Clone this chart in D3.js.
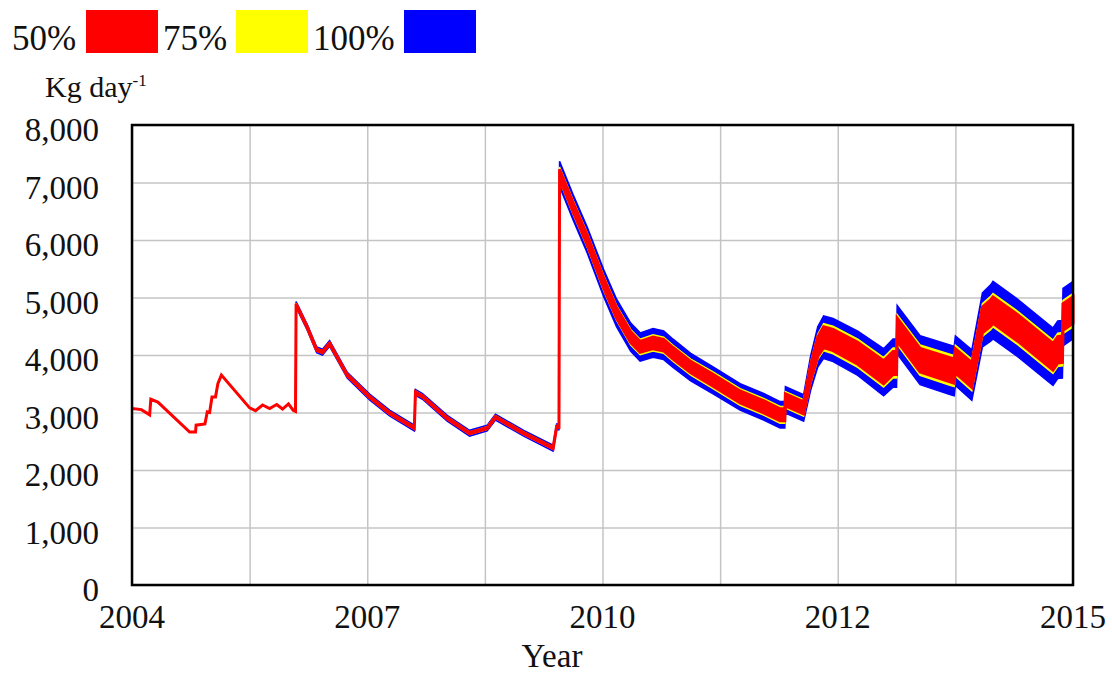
<!DOCTYPE html>
<html>
<head>
<meta charset="utf-8">
<script src="https://cdn.jsdelivr.net/npm/d3@7/dist/d3.min.js"></script>
<style>
  body { margin: 0; background: #fff; }
  text { font-family: "Liberation Serif", "Times New Roman", serif; fill: #111; }
</style>
</head>
<body>
<div id="chart"></div>
<script>
// x is in grid steps; the labelled ticks are 2004, 2007, 2010, 2012, 2015
let xTicks = [0, 1, 2, 3, 4, 5, 6, 7, 8]
let xTickLabels = ["2004", "", "2007", "", "2010", "", "2012", "", "2015"]
let yTicks = [0, 1000, 2000, 3000, 4000, 5000, 6000, 7000, 8000]

let legendLabels = ["50%", "75%", "100%"]
let legendColors = ["#ff0000", "#ffff00", "#0000ff"]

let period = [0, 0.08, 0.15, 0.16, 0.22, 0.49, 0.54, 0.545, 0.62, 0.64, 0.66, 0.68, 0.71, 0.73, 0.76,
  1.00, 1.05, 1.11, 1.17, 1.23, 1.28, 1.33, 1.37, 1.39,
  1.395, 1.49, 1.57, 1.62, 1.68, 1.83, 2.02, 2.19, 2.40, 2.41, 2.47, 2.68, 2.87, 3.02, 3.09, 3.33, 3.58, 3.61, 3.63,
  3.635, 3.75, 3.87, 4.01, 4.12, 4.24, 4.32, 4.43, 4.52, 4.60, 4.75, 4.94, 5.17, 5.37, 5.51, 5.55,
  5.555, 5.71, 5.77, 5.83, 5.88, 5.96, 6.17, 6.39, 6.47, 6.50,
  6.505, 6.70, 6.96, 6.99, 7.00, 7.14, 7.23, 7.30, 7.32, 7.53, 7.83, 7.87, 7.91, 7.915, 8.00]

let median = [3070, 3050, 2960, 3230, 3180, 2660, 2660, 2780, 2800, 3010, 3000, 3270, 3270, 3500, 3650,
  3080, 3030, 3130, 3070, 3140, 3060, 3150, 3040, 3020,
  4880, 4480, 4090, 4050, 4200, 3650, 3270, 2990, 2730, 3350, 3280, 2900, 2640, 2730, 2920, 2640, 2380, 2750, 2750,
  7150, 6570, 6000, 5250, 4730, 4310, 4140, 4210, 4170, 4030, 3790, 3560, 3270, 3100, 2960, 2960,
  3220, 3080, 3690, 4140, 4310, 4260, 4030, 3700, 3860, 3860,
  4440, 3910, 3740, 3720, 3900, 3650, 4610, 4730, 4780, 4470, 3970, 4090, 4100, 4660, 4780]

let half50 = [0, 0, 0, 0, 0, 0, 0, 0, 0, 0, 0, 0, 0, 0, 0,
  0, 0, 0, 0, 0, 0, 0, 0, 0,
  12, 12, 12, 12, 12, 12, 12, 12, 12, 12, 12, 12, 12, 12, 12, 12, 12, 12, 12,
  80, 80, 85, 90, 90, 95, 95, 100, 100, 100, 100, 105, 105, 105, 105, 105,
  105, 105, 140, 170, 180, 185, 190, 200, 200, 200,
  200, 205, 210, 210, 210, 215, 225, 230, 230, 230, 230, 230, 230, 230, 230]

let half75 = [0, 0, 0, 0, 0, 0, 0, 0, 0, 0, 0, 0, 0, 0, 0,
  0, 0, 0, 0, 0, 0, 0, 0, 0,
  22, 22, 22, 22, 22, 22, 22, 22, 22, 22, 22, 22, 22, 22, 22, 22, 22, 22, 22,
  120, 120, 125, 130, 130, 135, 135, 140, 140, 140, 140, 145, 145, 145, 145, 145,
  145, 145, 185, 220, 235, 240, 245, 255, 260, 260,
  260, 265, 270, 270, 270, 275, 285, 290, 290, 290, 290, 290, 290, 290, 290]

let half100 = [0, 0, 0, 0, 0, 0, 0, 0, 0, 0, 0, 0, 0, 0, 0,
  0, 0, 0, 0, 0, 0, 0, 0, 0,
  50, 50, 50, 50, 50, 50, 50, 50, 50, 50, 50, 50, 50, 50, 50, 50, 50, 50, 50,
  220, 220, 225, 235, 240, 245, 245, 250, 250, 245, 240, 235, 230, 230, 230, 230,
  230, 230, 300, 350, 370, 375, 385, 410, 420, 420,
  420, 425, 430, 430, 430, 440, 470, 490, 500, 500, 500, 500, 500, 500, 500]

let margin = {top: 125, right: 39, bottom: 88, left: 132},
    width = 1112 - margin.left - margin.right,
    height = 673 - margin.top - margin.bottom;

let svg = d3.select("#chart")
    .append("svg")
    .attr("width", 1112)
    .attr("height", 673)

let g = svg.append("g")
    .attr("transform", "translate(" + margin.left + "," + margin.top + ")");

let x = d3.scaleLinear()
    .domain([0, 8])
    .range([0, width]);

let y = d3.scaleLinear()
    .domain([0, 8000])
    .range([height, 0]);

let rows = period.map(function (t, i) {
    return {t: t, m: median[i], h: [half50[i], half75[i], half100[i]]}
})

// grid lines
g.append("g")
    .call(d3.axisBottom(x).tickValues(xTicks).tickSize(-height).tickFormat(""))
    .attr("transform", "translate(0," + height + ")")
    .call(function (a) {
        a.select(".domain").remove()
        a.selectAll("line").attr("stroke", "#c4c4c4").attr("stroke-width", 1.5)
    })

g.append("g")
    .call(d3.axisLeft(y).tickValues(yTicks).tickSize(-width).tickFormat(""))
    .call(function (a) {
        a.select(".domain").remove()
        a.selectAll("line").attr("stroke", "#c4c4c4").attr("stroke-width", 1.5)
    })

// bands, widest first
let bandOrder = [2, 1, 0]
bandOrder.forEach(function (k) {
    let area = d3.area()
        .x(function (d) { return x(d.t) })
        .y0(function (d) { return y(d.m - d.h[k]) })
        .y1(function (d) { return y(d.m + d.h[k]) })
    g.append("path")
        .datum(rows)
        .attr("d", area)
        .attr("fill", legendColors[k])
        .attr("stroke", legendColors[k])
        .attr("stroke-width", k === 0 ? 3 : 1.5)
        .attr("stroke-linejoin", "miter")
})

// frame
g.append("rect")
    .attr("width", width)
    .attr("height", height)
    .attr("fill", "none")
    .attr("stroke", "#000")
    .attr("stroke-width", 2.5)

// tick labels
g.append("g")
    .selectAll("text")
    .data(yTicks)
    .enter()
    .append("text")
    .attr("x", -33)
    .attr("y", function (d) { return y(d) + 16 })
    .attr("text-anchor", "end")
    .style("font-size", "33px")
    .text(function (d) { return d3.format(",")(d) })

g.append("g")
    .selectAll("text")
    .data(xTicks.filter(function (d, i) { return xTickLabels[i] !== "" }))
    .enter()
    .append("text")
    .attr("x", function (d) { return x(d) })
    .attr("y", height + 43)
    .attr("text-anchor", "middle")
    .style("font-size", "33px")
    .text(function (d) { return xTickLabels[xTicks.indexOf(d)] })

g.append("text")
    .attr("x", 420)
    .attr("y", height + 82)
    .attr("text-anchor", "middle")
    .style("font-size", "33px")
    .text("Year")

// unit label
let unit = svg.append("text")
    .attr("x", 45)
    .attr("y", 97)
    .style("font-size", "30px")
unit.append("tspan").text("Kg day")
unit.append("tspan").attr("dy", -11).style("font-size", "17px").text("-1")

// legend
let legendX = [12, 163, 313],
    boxX = [86, 236, 404]
let legend = svg.append("g")
legend.selectAll("text")
    .data(legendLabels)
    .enter()
    .append("text")
    .attr("x", function (d, i) { return legendX[i] })
    .attr("y", 50)
    .style("font-size", "35px")
    .text(function (d) { return d })
legend.selectAll("rect")
    .data(legendColors)
    .enter()
    .append("rect")
    .attr("x", function (d, i) { return boxX[i] })
    .attr("y", 10)
    .attr("width", 72)
    .attr("height", 43)
    .attr("fill", function (d) { return d })
</script>
</body>
</html>
